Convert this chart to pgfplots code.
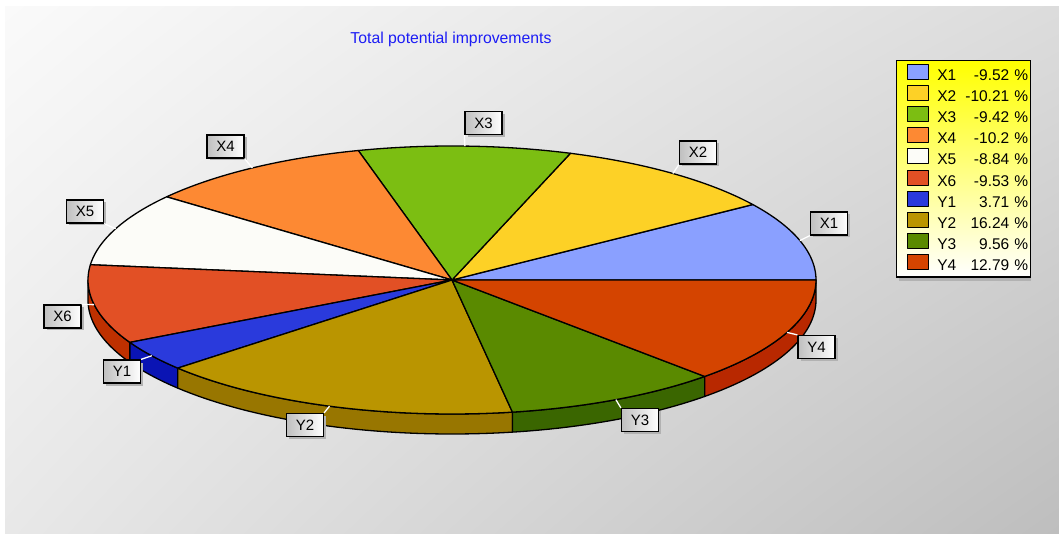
\documentclass[border=0pt]{standalone}
\usepackage{fontspec}
\setmainfont{Liberation Sans}
\usepackage{pgfplots}
\usepackage{pgfplotstable}
\pgfplotsset{compat=1.18}
\usetikzlibrary{shadows,shadings}

\definecolor{pc0}{RGB}{138,160,255}
\definecolor{pc1}{RGB}{253,209,38}
\definecolor{pc2}{RGB}{124,190,18}
\definecolor{pc3}{RGB}{253,137,51}
\definecolor{pc4}{RGB}{252,252,248}
\definecolor{pc5}{RGB}{226,80,37}
\definecolor{pc6}{RGB}{42,58,220}
\definecolor{pc7}{RGB}{186,149,0}
\definecolor{pc8}{RGB}{90,138,0}
\definecolor{pc9}{RGB}{212,68,0}
\definecolor{sc5}{RGB}{190,48,0}
\definecolor{sc6}{RGB}{10,20,180}
\definecolor{sc7}{RGB}{152,118,0}
\definecolor{sc8}{RGB}{58,102,0}
\definecolor{sc9}{RGB}{184,40,0}
\definecolor{titleblue}{RGB}{28,28,245}
\definecolor{bgUL}{RGB}{250,250,250}
\definecolor{bgUR}{RGB}{220,220,220}
\definecolor{bgLL}{RGB}{232,232,232}
\definecolor{bgLR}{RGB}{190,190,190}

\pgfplotstableread{
label value
X1 -9.52
X2 -10.21
X3 -9.42
X4 -10.2
X5 -8.84
X6 -9.53
Y1 3.71
Y2 16.24
Y3 9.56
Y4 12.79
}\piedata

% cumulative angles from the absolute shares
\def\pietotal{0}
\pgfplotsforeachungrouped \i in {0,...,9}{%
  \pgfplotstablegetelem{\i}{value}\of\piedata
  \pgfmathsetmacro\pietotal{\pietotal+abs(\pgfplotsretval)}%
}
\def\pieacc{0}
\pgfplotsforeachungrouped \i in {0,...,9}{%
  \pgfplotstablegetelem{\i}{value}\of\piedata
  \pgfmathsetmacro\pienext{\pieacc+360*abs(\pgfplotsretval)/\pietotal}%
  \pgfmathsetmacro\piemid{(\pieacc+\pienext)/2}%
  \expandafter\xdef\csname pieA\i\endcsname{\pieacc}%
  \expandafter\xdef\csname pieB\i\endcsname{\pienext}%
  \expandafter\xdef\csname pieM\i\endcsname{\piemid}%
  \xdef\pieacc{\pienext}%
}

\newcommand\labfont{\fontsize{15}{17}\selectfont}
\newcommand\legfont{\fontsize{15.5}{17}\selectfont}
\tikzset{lblbox/.style={draw=black, line width=1.2pt, left color=black!25, right color=white,
  minimum width=37pt, minimum height=23pt, inner sep=0pt, font=\labfont,
  drop shadow={shadow xshift=2.5pt, shadow yshift=-2.5pt, fill=black!30, opacity=1}}}

% #1 index, #2 text, #3 x, #4 y, #5 anchor of the box where the connector ends
\newcommand\pielabel[5]{%
  \edef\tM{\csname pieM#1\endcsname}%
  \pgfmathsetmacro\rimx{452+364*cos(\tM)}%
  \pgfmathsetmacro\rimy{253+134*sin(\tM)}%
  \edef\temp{\noexpand\node[lblbox] (L#1) at (axis cs:#3,#4) {#2};
    \noexpand\draw[white, line width=1.3pt] (axis cs:\rimx,\rimy) -- (L#1.#5);}%
  \temp}

\begin{document}
\begin{tikzpicture}
\begin{axis}[
  x=1pt, y=1pt, xmin=0, xmax=1059, ymin=0, ymax=533,
  hide axis, clip=false, scale only axis,
  declare function={px(\t)=452+364*cos(\t); py(\t)=253+134*sin(\t);},
  legend style={
    at={(axis cs:896,473)}, anchor=north west,
    draw=black, line width=1.2pt,
    top color=yellow, bottom color=white,
    inner xsep=2pt, inner ysep=3.5pt,
    font=\legfont,
    row sep=1.6pt,
    nodes={font=\legfont, inner sep=0pt, text width=91pt, align=left, text height=11pt, text depth=3pt},
    /tikz/every odd column/.style={column sep=8pt},
  },
  legend cell align=left,
  legend image code/.code={\path (0pt,0pt); \draw[#1, draw=black, line width=1pt] (8pt,-3pt) rectangle (29.5pt,12pt);},
]
\fill[white] (axis cs:0,0) rectangle (axis cs:1059,533);
\shade[upper left=bgUL, upper right=bgUR, lower left=bgLL, lower right=bgLR]
  (axis cs:5,0) rectangle (axis cs:1059,526);
% legend shadow
\fill[black!30] (axis cs:899,252) rectangle (axis cs:1031,470);

\node[font=\fontsize{15.8}{18}\selectfont, text=titleblue] at (axis cs:451,494) {Total potential improvements};

% side walls of the front slices
\pgfplotsinvokeforeach{5,...,9}{%
  \edef\tmpA{\csname pieA#1\endcsname}\edef\tmpB{\csname pieB#1\endcsname}%
  \pgfmathsetmacro\tA{max(\tmpA,180)}%
  \pgfmathsetmacro\tB{min(\tmpB,360)}%
  \addplot[fill=sc#1, draw=black, line width=1.3pt, line join=round, forget plot, domain=0:3, samples=151]
   ({px(\tA+(\tB-\tA)*(min(x,1)-max(x-2,0)))},
    {py(\tA+(\tB-\tA)*(min(x,1)-max(x-2,0)))-20*min(max(x-1,0),1)}) -- cycle;
}

% top faces
\pgfplotsinvokeforeach{0,...,9}{%
  \edef\tA{\csname pieA#1\endcsname}\edef\tB{\csname pieB#1\endcsname}%
  \pgfplotstablegetelem{#1}{label}\of\piedata\edef\tL{\pgfplotsretval}%
  \pgfplotstablegetelem{#1}{value}\of\piedata\edef\tV{\pgfplotsretval}%
  \addplot[fill=pc#1, draw=black, line width=1.3pt, line join=round, domain=\tA:\tB, samples=60]
    ({px(x)},{py(x)}) -- (axis cs:452,253) -- cycle;
  \addlegendentryexpanded{\tL\noexpand\hfill\tV\space\noexpand\%}
}

\pielabel{0}{X1}{829}{309.5}{south west}
\pielabel{1}{X2}{698}{380.5}{south west}
\pielabel{2}{X3}{483.5}{410}{south west}
\pielabel{3}{X4}{225.5}{386.5}{south east}
\pielabel{4}{X5}{85}{321.5}{south east}
\pielabel{5}{X6}{62.5}{216.5}{north east}
\pielabel{6}{Y1}{122}{161.5}{north east}
\pielabel{7}{Y2}{305}{108}{north east}
\pielabel{8}{Y3}{640}{113}{north west}
\pielabel{9}{Y4}{816.5}{186}{north west}
\end{axis}
\end{tikzpicture}
\end{document}
